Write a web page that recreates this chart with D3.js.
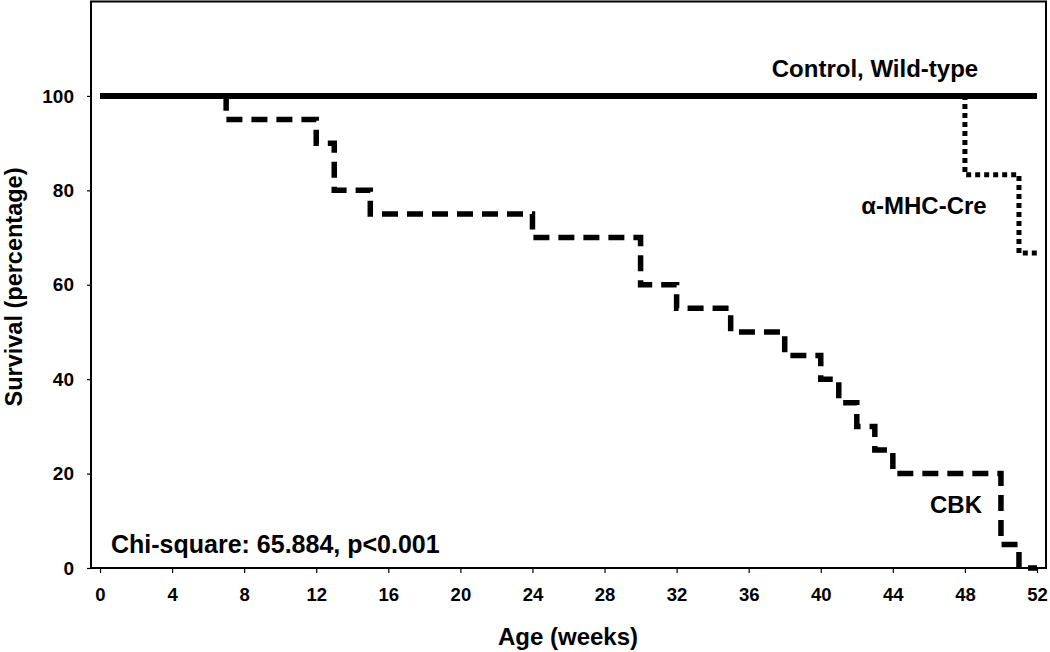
<!DOCTYPE html>
<html><head><meta charset="utf-8">
<script src="https://cdn.jsdelivr.net/npm/d3@7"></script>
<style>
body{margin:0;background:#fff;}
svg{display:block;font-family:"Liberation Sans",Arial,sans-serif;font-weight:bold;}
</style></head>
<body><svg id="c" width="1050" height="652"></svg>
<script>
const xTicks = [0,4,8,12,16,20,24,28,32,36,40,44,48,52];
const yTicks = [0,20,40,60,80,100];
const controlWeeks = [0,52];
const controlSurv = [100,100];
const cbkWeeks = [0,7,12,13,15,24,30,32,35,38,40,41,42,43,44,50,51,52];
const cbkSurv  = [100,95,90,80,75,70,60,55,50,45,40,35,30,25,20,5,0,0];
const mhcWeeks = [0,48,51,52];
const mhcSurv  = [100,83.3,66.7,66.7];

const svg = d3.select("#c");
const L=91, R=1046, T=1.5, B=568;
const x = d3.scaleLinear().domain([-0.5,52.5]).range([L,R]);
const y = d3.scaleLinear().domain([0,120]).range([B,T]);

const line = d3.line().x(d=>x(d[0])).y(d=>y(d[1])).curve(d3.curveStepAfter);
const zip=(a,b)=>a.map((v,i)=>[v,b[i]]);

// series
svg.append("path").attr("d",line(zip(mhcWeeks,mhcSurv))).attr("fill","none")
  .attr("stroke","#000").attr("stroke-width",5).attr("stroke-dasharray","5,4");
svg.append("path").attr("d",line(zip(cbkWeeks,cbkSurv))).attr("fill","none")
  .attr("stroke","#000").attr("stroke-width",5.5).attr("stroke-dasharray","16,9");
svg.append("path").attr("d",line(zip(controlWeeks,controlSurv))).attr("fill","none")
  .attr("stroke","#000").attr("stroke-width",6);

// frame
svg.append("rect").attr("x",L).attr("y",T).attr("width",R-L).attr("height",B-T)
  .attr("fill","none").attr("stroke","#000").attr("stroke-width",2);

// axes
const xa = svg.append("g").attr("transform",`translate(0,${B})`)
  .call(d3.axisBottom(x).tickValues(xTicks).tickSize(5).tickSizeOuter(0).tickPadding(15));
xa.select(".domain").remove();
xa.selectAll("text").attr("font-size",18.5).attr("font-family","Liberation Sans, Arial").attr("font-weight","bold").attr("fill","#000");
xa.selectAll("line").attr("stroke-width",1.2);

const ya = svg.append("g").attr("transform",`translate(${L},0)`)
  .call(d3.axisLeft(y).tickValues(yTicks).tickSize(4).tickSizeOuter(0).tickPadding(13));
ya.select(".domain").remove();
ya.selectAll("text").attr("font-size",19).attr("font-family","Liberation Sans, Arial").attr("font-weight","bold").attr("fill","#000");
ya.selectAll("line").attr("stroke-width",1.2);

// labels
svg.append("text").attr("x",568).attr("y",645).attr("text-anchor","middle")
  .attr("font-size",24).text("Age (weeks)");
svg.append("text").attr("transform","translate(22,287) rotate(-90)").attr("text-anchor","middle")
  .attr("font-size",23.5).text("Survival (percentage)");
svg.append("text").attr("x",875).attr("y",77).attr("text-anchor","middle")
  .attr("font-size",24).text("Control, Wild-type");
svg.append("text").attr("x",924).attr("y",214).attr("text-anchor","middle")
  .attr("font-size",24).text("α-MHC-Cre");
svg.append("text").attr("x",956).attr("y",513).attr("text-anchor","middle")
  .attr("font-size",24).text("CBK");
svg.append("text").attr("x",111).attr("y",553)
  .attr("font-size",25).text("Chi-square: 65.884, p<0.001");
</script></body></html>
